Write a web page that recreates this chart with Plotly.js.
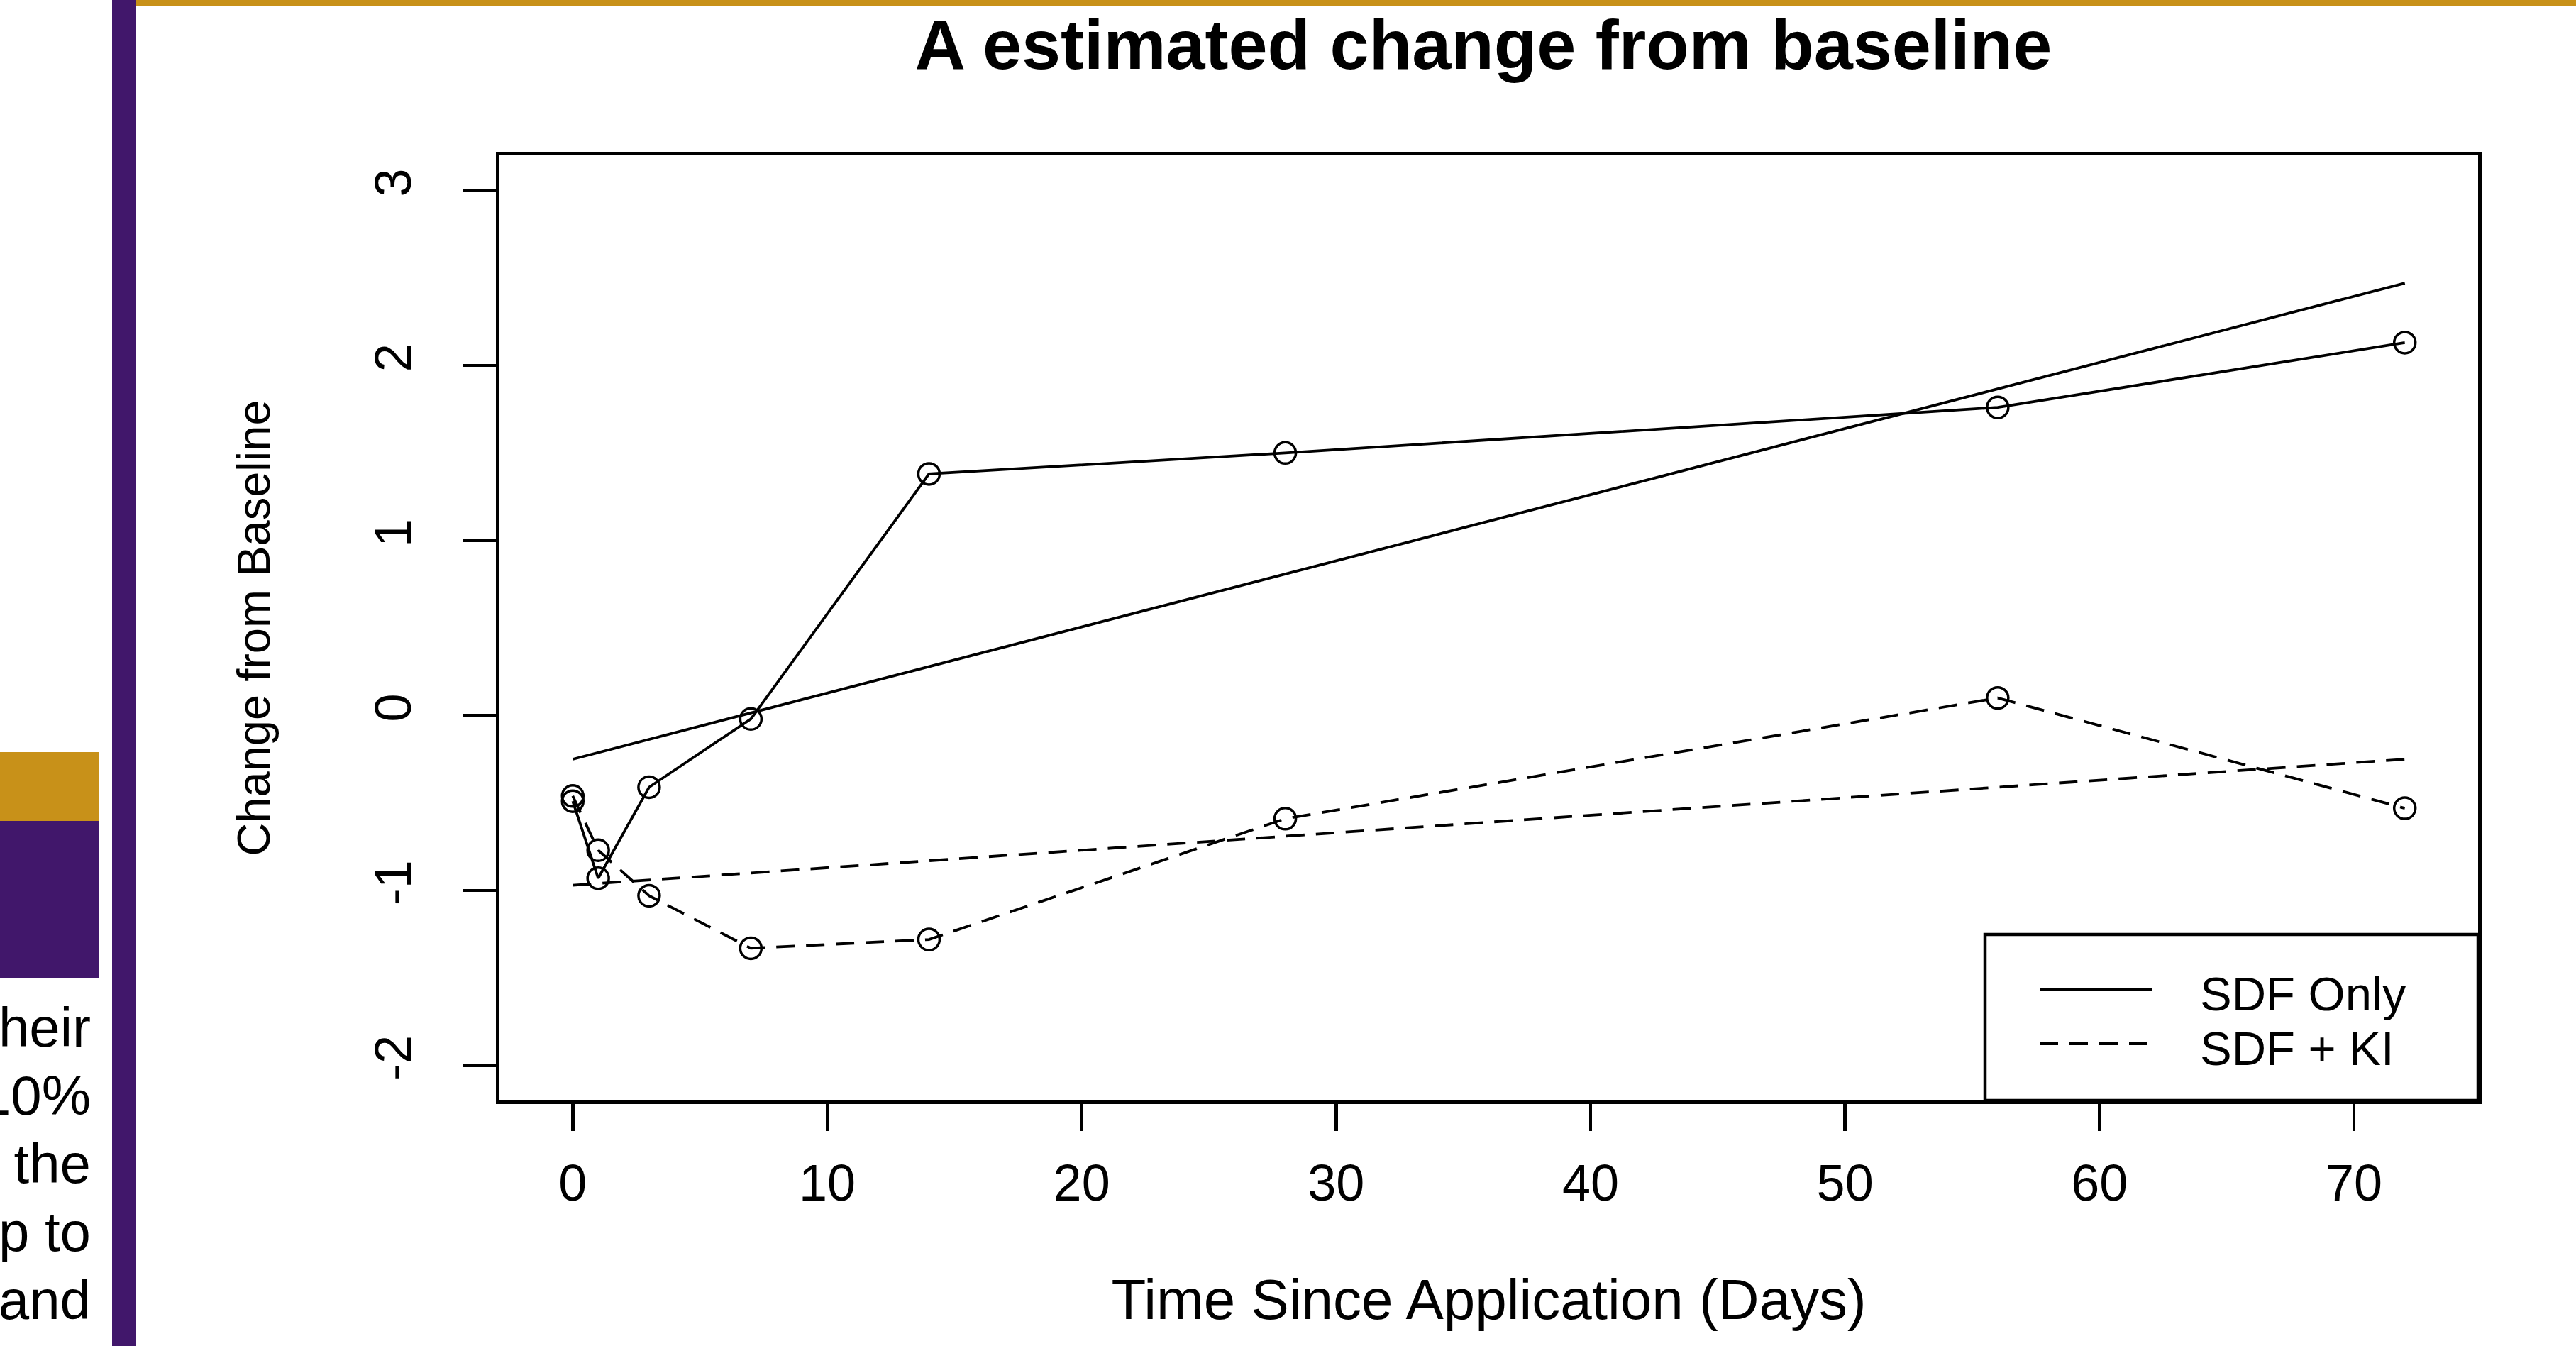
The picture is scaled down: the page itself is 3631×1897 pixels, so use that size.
<!DOCTYPE html>
<html>
<head>
<meta charset="utf-8">
<script src="https://cdn.plot.ly/plotly-3.0.1.min.js"></script>
<style>
html, body { margin:0; padding:0; width:3631px; height:1897px; overflow:hidden; background:#ffffff; }
#chart { position:absolute; left:0; top:0; width:3631px; height:1897px; }
.deco { position:absolute; }
#sidetext { position:absolute; left:-472px; top:1400px; width:600px; text-align:right;
  font-family:'Liberation Sans', Arial, sans-serif; font-size:78px; line-height:96px; color:#000; white-space:pre; }
</style>
</head>
<body>
<div id="chart"></div>
<div class="deco" style="left:158px;top:0;width:34px;height:1897px;background:#41176b;"></div>
<div class="deco" style="left:192px;top:0;width:3439px;height:9px;background:#c89119;"></div>
<div class="deco" style="left:0;top:1060px;width:140px;height:97px;background:#c89119;"></div>
<div class="deco" style="left:0;top:1157px;width:140px;height:222px;background:#41176b;"></div>
<div id="sidetext"></div>
<script>
// ---- data ----
const days = [0, 1, 3, 7, 14, 28, 56, 72];
const sdfOnly = [-0.49, -0.93, -0.41, -0.02, 1.38, 1.50, 1.76, 2.13];
const sdfKI = [-0.46, -0.77, -1.03, -1.33, -1.28, -0.59, 0.10, -0.53];
const fitDays = [0, 72];
const fitOnly = [-0.25, 2.47];
const fitKI = [-0.97, -0.25];
const seriesNames = ['SDF Only', 'SDF + KI'];
const xTicks = [0, 10, 20, 30, 40, 50, 60, 70];
const yTicks = [-2, -1, 0, 1, 2, 3];
const titleText = 'A estimated change from baseline';
const xTitle = 'Time Since Application (Days)';
const yTitle = 'Change from Baseline';
const sideText = ['heir', '10%', 'the', 'p to', 'and'];

document.getElementById('sidetext').textContent = sideText.join('\n');

const FONT = 'Liberation Sans, Arial, sans-serif';
const DASH = '26px,16px';
const L = 704, R = 3493, T = 219, B = 1551;
const PX = px => (px - L) / (R - L);
const PY = py => (B - py) / (B - T);

const markerStyle = {symbol: 'circle-open', size: 30, color: '#000', line: {width: 3.5, color: '#000'}};
const traces = [
  {x: days, y: sdfOnly, name: seriesNames[0], mode: 'lines+markers',
   line: {color: '#000', width: 3.8}, marker: markerStyle},
  {x: days, y: sdfKI, name: seriesNames[1], mode: 'lines+markers',
   line: {color: '#000', width: 3.8, dash: DASH}, marker: markerStyle},
  {x: fitDays, y: fitOnly, name: seriesNames[0] + ' fit', mode: 'lines',
   line: {color: '#000', width: 3.8}},
  {x: fitDays, y: fitKI, name: seriesNames[1] + ' fit', mode: 'lines',
   line: {color: '#000', width: 3.8, dash: DASH}}
];

const axisCommon = {
  showgrid: false, zeroline: false, showline: true, mirror: true,
  linecolor: '#000', linewidth: 5, ticks: 'outside', tickcolor: '#000',
  tickwidth: 4.5, automargin: false
};

const layout = {
  width: 3631, height: 1897,
  paper_bgcolor: '#ffffff', plot_bgcolor: '#ffffff',
  showlegend: false,
  margin: {l: L, r: 3631 - R, t: T, b: 1897 - B, pad: 0},
  font: {family: FONT, color: '#000'},
  title: {text: '<b>' + titleText + '</b>', font: {family: FONT, size: 99, color: '#000'},
          x: PX(2091), xref: 'paper', xanchor: 'center', y: 1 - 62 / 1897, yref: 'container', yanchor: 'middle'},
  xaxis: Object.assign({}, axisCommon, {
    range: [-2.88, 74.88], tickvals: xTicks, ticktext: xTicks.map(String), ticklen: 38,
    tickfont: {family: FONT, size: 72, color: '#000'}, ticklabelstandoff: 12,
    title: {text: xTitle, font: {family: FONT, size: 80, color: '#000'}, standoff: 98}
  }),
  yaxis: Object.assign({}, axisCommon, {
    range: [-2.2, 3.2], tickvals: yTicks, ticktext: yTicks.map(String), ticklen: 47, tickangle: -90,
    tickfont: {family: FONT, size: 72, color: '#000'}, ticklabelstandoff: 44,
    title: {text: yTitle, font: {family: FONT, size: 65, color: '#000'}, standoff: 114}
  }),
  shapes: [
    {type: 'rect', xref: 'paper', yref: 'paper', x0: PX(2798), x1: PX(3493), y0: PY(1551), y1: PY(1317),
     line: {color: '#000', width: 4.5}, fillcolor: '#ffffff', layer: 'above'},
    {type: 'line', xref: 'paper', yref: 'paper', x0: PX(2875), x1: PX(3033), y0: PY(1394), y1: PY(1394),
     line: {color: '#000', width: 4}},
    {type: 'line', xref: 'paper', yref: 'paper', x0: PX(2875), x1: PX(3033), y0: PY(1471), y1: PY(1471),
     line: {color: '#000', width: 4, dash: DASH}}
  ],
  annotations: seriesNames.map((n, i) => ({
    text: n, xref: 'paper', yref: 'paper', x: PX(3100), y: PY(i === 0 ? 1400 : 1477),
    xanchor: 'left', yanchor: 'middle', showarrow: false, borderpad: 0,
    font: {family: FONT, size: 67, color: '#000'}
  }))
};

Plotly.newPlot('chart', traces, layout, {staticPlot: true, displayModeBar: false});
</script>
</body>
</html>
